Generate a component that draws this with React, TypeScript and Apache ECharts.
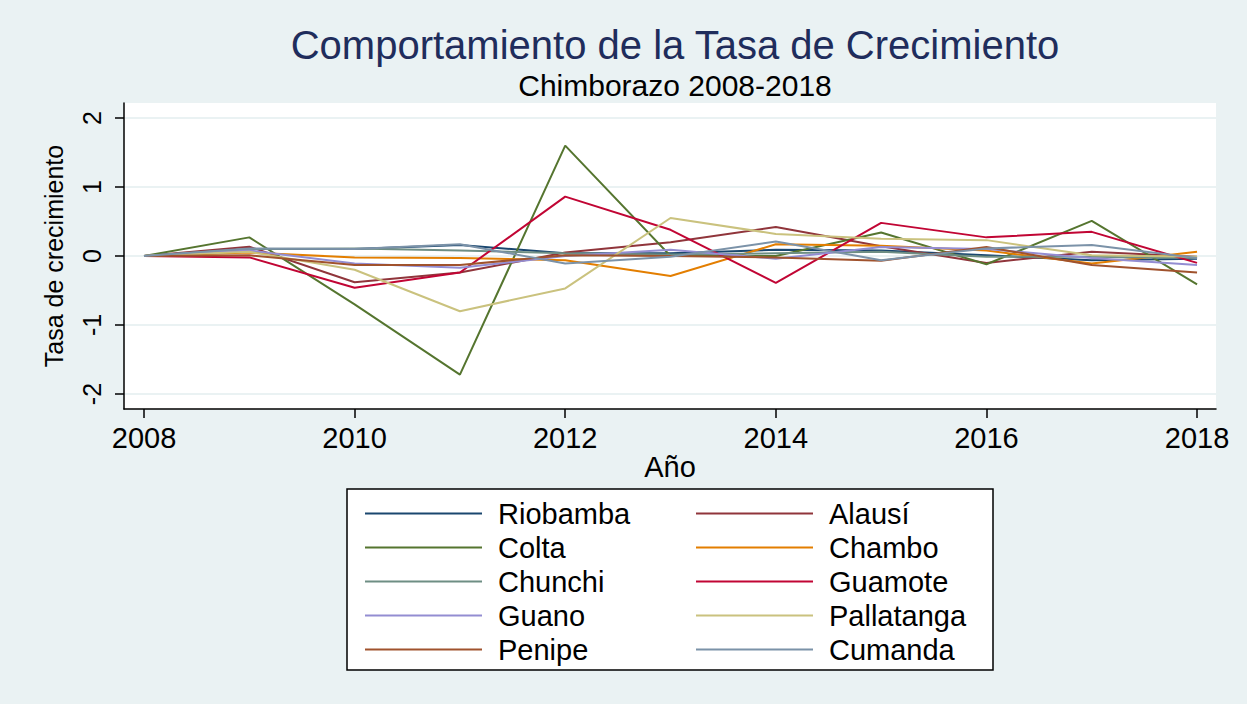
import React, { useEffect, useRef } from "react";
import * as echarts from "echarts";

const years = [2008, 2009, 2010, 2011, 2012, 2013, 2014, 2015, 2016, 2017, 2018];
const xTicks = [2008, 2010, 2012, 2014, 2016, 2018];
const yTicks = [-2, -1, 0, 1, 2];

const riobamba = [0, 0.1, 0.1, 0.16, 0.04, 0.04, 0.09, 0.08, 0.01, -0.06, -0.04];
const alausi = [0, 0.135, -0.38, -0.24, 0.05, 0.2, 0.42, 0.14, -0.1, 0.06, -0.01];
const colta = [0, 0.27, -0.7, -1.72, 1.6, 0.0, 0.0, 0.34, -0.12, 0.51, -0.41];
const chambo = [0, 0.05, -0.02, -0.03, -0.06, -0.29, 0.17, 0.15, 0.08, -0.11, 0.06];
const chunchi = [0, 0.1, 0.11, 0.08, 0.04, 0.02, 0.04, 0.06, -0.01, -0.01, -0.03];
const guamote = [0, -0.02, -0.46, -0.24, 0.86, 0.38, -0.39, 0.48, 0.27, 0.35, -0.1];
const guano = [0, 0.08, -0.11, -0.17, 0.0, 0.09, -0.04, 0.13, 0.1, -0.03, -0.13];
const pallatanga = [0, 0.06, -0.2, -0.8, -0.47, 0.55, 0.32, 0.25, 0.23, 0.01, -0.01];
const penipe = [0, 0.01, -0.13, -0.13, 0.01, 0.0, -0.02, -0.07, 0.13, -0.13, -0.24];
const cumanda = [0, 0.11, 0.1, 0.17, -0.11, -0.01, 0.21, -0.06, 0.11, 0.16, -0.03];

const seriesNames = ["Riobamba", "Alausí", "Colta", "Chambo", "Chunchi", "Guamote", "Guano", "Pallatanga", "Penipe", "Cumanda"];
const seriesValues = [riobamba, alausi, colta, chambo, chunchi, guamote, guano, pallatanga, penipe, cumanda];
const colors = ["#1a476f", "#90353b", "#55752f", "#e37e00", "#6e8e84", "#c10534", "#938dd2", "#cac27e", "#a0522d", "#7b92a8"];

const FONT = "'Liberation Sans', Arial, sans-serif";

export default function App() {
  const ref = useRef<HTMLDivElement>(null);
  useEffect(() => {
    if (!ref.current) return;
    const chart = echarts.init(ref.current, null, { renderer: "svg" });
    const series = seriesNames.map((name, i) => ({
      name,
      type: "line",
      data: years.map((y, j) => [y, seriesValues[i][j]]),
      showSymbol: false,
      symbol: "none",
      lineStyle: { color: colors[i], width: 2 },
      itemStyle: { color: colors[i] },
      z: 3 + i,
    }));
    const legendCommon = {
      orient: "vertical",
      top: 494,
      itemWidth: 117,
      itemHeight: 24,
      itemGap: 5,
      z: 20,
      icon: "path://M0,11 L117,11 L117,13 L0,13 Z",
      textStyle: { fontFamily: FONT, fontSize: 29, color: "#000", padding: [0, 0, 0, 11], lineHeight: 24 },
    };
    chart.setOption({
      animation: false,
      backgroundColor: "#eaf2f3",
      title: [
        {
          text: "Comportamiento de la Tasa de Crecimiento",
          left: 670,
          textAlign: "center",
          top: 18,
          textStyle: { fontFamily: FONT, fontSize: 40, lineHeight: 44, fontWeight: "normal", color: "#1f2d5c" },
        },
        {
          text: "Chimborazo 2008-2018",
          left: 670,
          textAlign: "center",
          top: 64,
          textStyle: { fontFamily: FONT, fontSize: 30, lineHeight: 32, fontWeight: "normal", color: "#000" },
        },
      ],
      grid: {
        left: 124,
        right: 31,
        top: 103,
        bottom: 295,
        show: true,
        backgroundColor: "#ffffff",
        borderWidth: 0,
      },
      xAxis: {
        type: "value",
        min: 2007.81,
        max: 2018.18,
        name: "Año",
        nameLocation: "middle",
        nameGap: 40,
        nameTextStyle: { fontFamily: FONT, fontSize: 29, color: "#000" },
        axisLine: { show: true, onZero: false, lineStyle: { color: "#000", width: 1.5 } },
        axisTick: { show: true, length: 9, customValues: xTicks, lineStyle: { color: "#000", width: 1.5 } },
        axisLabel: { customValues: xTicks, margin: 14, fontFamily: FONT, fontSize: 29, color: "#000", formatter: (v: number) => String(v) },
        splitLine: { show: false },
      },
      yAxis: {
        type: "value",
        min: -2.217,
        max: 2.217,
        name: "Tasa de crecimiento",
        nameLocation: "middle",
        nameGap: 58,
        nameTextStyle: { fontFamily: FONT, fontSize: 25, color: "#000" },
        axisLine: { show: true, onZero: false, lineStyle: { color: "#000", width: 1.5 } },
        axisTick: { show: true, length: 9, customValues: yTicks, lineStyle: { color: "#000", width: 1.5 } },
        axisLabel: { customValues: yTicks, rotate: 90, margin: 20, fontFamily: FONT, fontSize: 25, color: "#000", formatter: (v: number) => String(v) },
        splitLine: { show: true, lineStyle: { color: "#eaf2f3", width: 2 } },
      },
      legend: [
        { ...legendCommon, left: 360, data: ["Riobamba", "Colta", "Chunchi", "Guano", "Penipe"] },
        { ...legendCommon, left: 691, data: ["Alausí", "Chambo", "Guamote", "Pallatanga", "Cumanda"] },
      ],
      graphic: [
        {
          type: "rect",
          z: 1,
          shape: { x: 347, y: 489, width: 646, height: 181 },
          style: { fill: "#ffffff", stroke: "#000000", lineWidth: 1.5 },
        },
      ],
      series,
    });
    return () => chart.dispose();
  }, []);
  return (
    <div
      ref={ref}
      style={{ position: "absolute", left: 0, top: 0, width: 1247, height: 704 }}
    />
  );
}
